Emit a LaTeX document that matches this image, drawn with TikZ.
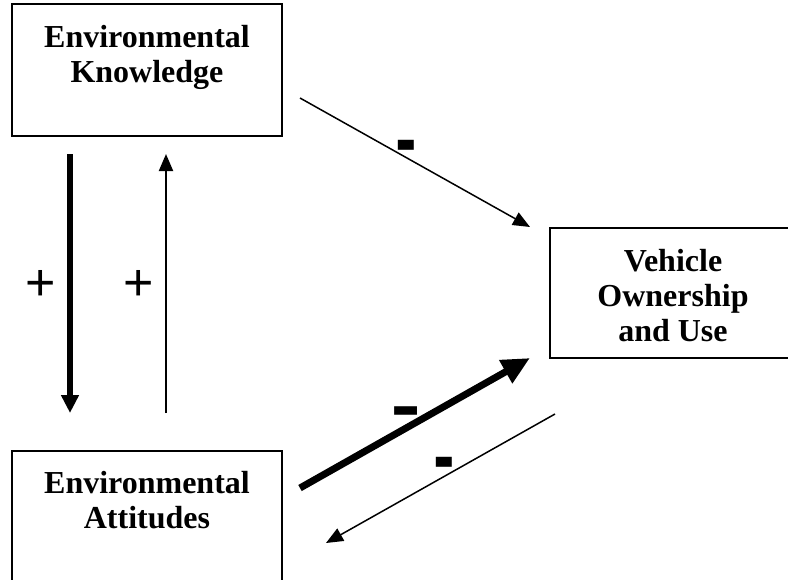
\documentclass[tikz,border=0pt]{standalone}
\usepackage{fontspec}
\setmainfont{Liberation Serif}
\newfontfamily\plusfont{Liberation Sans}
\newfontfamily\minusfont{DejaVu Sans}
\usetikzlibrary{arrows.meta}
\begin{document}
\begin{tikzpicture}[x=1pt,y=1pt,
 box/.style={draw, line width=1.5pt, inner sep=0pt},
 boxtext/.style={font=\bfseries\fontsize{32}{35}\selectfont, align=center, inner sep=0pt, anchor=north},
 thinarrow/.style={line width=1.5pt, -{Triangle[length=17pt,width=14pt]}},
 thickarrow/.style={line width=7pt, -{Triangle[length=28pt,width=25pt]}},
 vthickarrow/.style={line width=6.5pt, -{Triangle[length=18pt,width=17pt]}},
 plussign/.style={font=\plusfont\fontsize{52}{52}\selectfont, inner sep=0pt},
 minussign/.style={font=\minusfont\bfseries\fontsize{52}{52}\selectfont, inner sep=0pt}]
\clip (0,0) rectangle (788,-579);
\fill[white] (0,0) rectangle (788,-579);

% boxes
\node[box, minimum width=270pt, minimum height=132pt] (ek) at (147,-70) {};
\node[boxtext] (ektext) at (147,-25) {Environmental\\Knowledge};

\node[box, minimum width=270pt, minimum height=132pt] (ea) at (147,-517) {};
\node[boxtext] (eatext) at (147,-471) {Environmental\\Attitudes};

\node[box, minimum width=246pt, minimum height=130pt] (vo) at (673,-293) {};
\node[boxtext] (votext) at (673,-249) {Vehicle\\Ownership\\and Use};

% connector end points
\coordinate (a1) at (70,-154);
\coordinate (a2) at (70,-413);
\coordinate (b1) at (166,-413);
\coordinate (b2) at (166,-154);
\coordinate (c1) at (300,-98);
\coordinate (c2) at (530,-227);
\coordinate (d1) at (300,-488);
\coordinate (d2) at (530,-358);
\coordinate (e1) at (555,-414);
\coordinate (e2) at (326,-543);

\draw[vthickarrow] (a1) -- (a2);
\draw[thinarrow, line width=2pt] (b1) -- (b2);
\draw[thinarrow] (c1) -- (c2);
\draw[thickarrow] (d1) -- (d2);
\draw[thinarrow] (e1) -- (e2);

% labels
\node[plussign] (p1) at (41,-285) {+};
\node[plussign] (p2) at (139,-285) {+};
\node[minussign] (m1) at (406,-153) {\scalebox{1.0}[1.35]{-}};
\node[minussign] (m2) at (406.5,-418) {\scalebox{1.12}[1.3]{–}};
\node[minussign] (m3) at (444,-469.5) {\scalebox{1.0}[1.35]{-}};
\end{tikzpicture}
\end{document}
